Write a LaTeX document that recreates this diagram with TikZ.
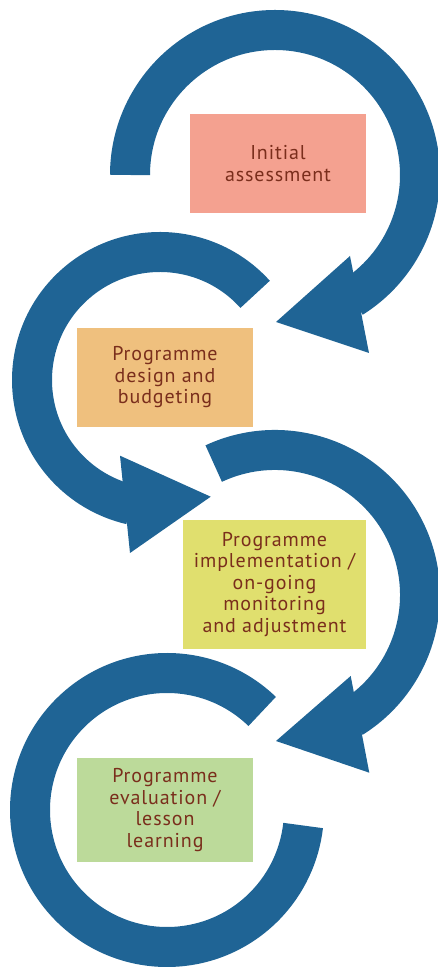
\documentclass[tikz,border=0pt]{standalone}
\usepackage{fontspec}
\setmainfont[LetterSpace=4.5]{PT Sans}
\definecolor{cycleblue}{RGB}{31,100,149}
\definecolor{stagetext}{RGB}{122,46,28}
\definecolor{initfill}{RGB}{244,161,144}
\definecolor{designfill}{RGB}{239,192,126}
\definecolor{implfill}{RGB}{224,223,110}
\definecolor{evalfill}{RGB}{188,218,154}
\tikzset{
  ring/.style={draw=cycleblue, line width=40pt},
  tiphead/.style={fill=cycleblue},
  stagebox/.style={minimum width=176pt, minimum height=99pt, inner sep=0pt,
    align=center, text=stagetext, font=\fontsize{20}{21.5}\selectfont}
}
\begin{document}
\begin{tikzpicture}[x=1pt,y=1pt]
\useasboundingbox (0,0) rectangle (438,967);
\coordinate (c1) at (275,792);
\coordinate (c2) at (160,587);
\coordinate (c3) at (275,372);
\coordinate (c4) at (167,157);
\draw[ring] (c1) ++(180:145) arc[start angle=180, end angle=-58, radius=145];
\fill[tiphead] (350,711) -- (276,645) -- (369,614) -- cycle;
\draw[ring] (c2) ++(42:128) arc[start angle=42, end angle=257, radius=128];
\fill[tiphead] (120,511.3) -- (210.7,470.3) -- (130,414) -- cycle;
\draw[ring] (c3) ++(115:145) arc[start angle=115, end angle=-58, radius=145];
\fill[tiphead] (350.7,291) -- (276,226) -- (369.3,194.3) -- cycle;
\draw[ring] (c4) ++(46:137) arc[start angle=46, end angle=353.5, radius=137];
\node[stagebox, fill=initfill] (initial) at (278,803.5) {Initial\\assessment};
\node[stagebox, fill=designfill] (design) at (165,589.5) {Programme\\design and\\budgeting};
\node[stagebox, fill=implfill, minimum width=183pt, minimum height=129pt] (impl) at (274.5,382.5)
  {Programme\\implementation /\\on-going\\monitoring\\and adjustment};
\node[stagebox, fill=evalfill, minimum height=104pt] (eval) at (165,157) {Programme\\evaluation /\\lesson\\learning};
\end{tikzpicture}
\end{document}
